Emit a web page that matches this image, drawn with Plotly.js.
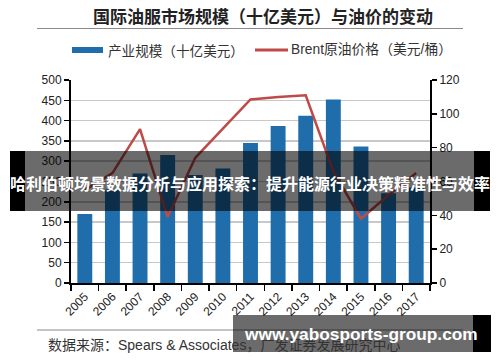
<!DOCTYPE html>
<html>
<head>
<meta charset="utf-8">
<script src="https://cdn.plot.ly/plotly-3.0.1.min.js"></script>
<style>html,body{margin:0;padding:0;background:#fff;}#chart{width:500px;height:362px;}</style>
</head>
<body>
<div id="chart"></div>
<script>
const years = ['2005','2006','2007','2008','2009','2010','2011','2012','2013','2014','2015','2016','2017'];
const marketSize = [170, 230, 270, 315, 266, 282, 345, 387, 412, 452, 336, 221, 235];
const brentPrice = [55, 65, 91, 39, 74, 91, 108.5, 110, 111, 66, 38, 52, 65];
const leftTicks = [0, 50, 100, 150, 200, 250, 300, 350, 400, 450, 500];
const rightTicks = [0, 20, 40, 60, 80, 100, 120];

const chartTitle = '国际油服市场规模（十亿美元）与油价的变动';
const barName = '产业规模（十亿美元）';
const lineName = 'Brent原油价格（美元/桶）';
const sourceText = '数据来源：Spears &amp; Associates，广发证券发展研究中心';
const bannerText = '哈利伯顿场景数据分析与应用探索：提升能源行业决策精准性与效率';
const watermarkText = 'www.yabosports-group.com';

const M = {l:71, r:70, t:80, b:79};
const W = 500, H = 362;
const PW = W - M.l - M.r, PH = H - M.t - M.b;
const px = x => (x - M.l) / PW;
const py = y => (H - M.b - y) / PH;

const barColor = '#1f6eab';
const lineColor = '#be4b48';
const cjk = '"Noto Sans CJK SC", "Liberation Sans", sans-serif';
const latin = '"Liberation Sans", Arial, "Noto Sans CJK SC", sans-serif';

const traces = [
  {type:'bar', x: years, y: marketSize, name: barName, marker:{color: barColor}, yaxis:'y', showlegend:false},
  {type:'scatter', mode:'lines', x: years, y: brentPrice, name: lineName, line:{color: lineColor, width:2.5}, yaxis:'y2', showlegend:false}
];

function rect(x0,y0,x1,y1,fill,layer){
  return {type:'rect', xref:'paper', yref:'paper', x0:px(x0), x1:px(x1), y0:py(y1), y1:py(y0), fillcolor:fill, line:{width:0}, layer: layer||'above'};
}
function hline(x0,x1,y,color,w){
  return {type:'line', xref:'paper', yref:'paper', x0:px(x0), x1:px(x1), y0:py(y), y1:py(y), line:{color:color, width:w}, layer:'above'};
}

const shapes = [
  hline(37, 463, 28.5, '#8a8a8a', 1.2),
  hline(37, 463, 330, '#8a8a8a', 1.2),
  rect(72, 47, 103, 53, barColor),
  hline(255, 288, 50, lineColor, 3),
  // overlay banner
  rect(25, 151, 474, 211, 'rgba(0,0,0,0.58)'),
  rect(10, 151, 25, 211, '#000'),
  rect(474, 151, 490, 211, '#000'),
  // watermark box
  rect(233, 315, 473, 352, 'rgba(0,0,0,0.58)'),
  rect(473, 315, 491, 352, '#000')
];

function ann(text, x, y, size, opts){
  return Object.assign({text:text, xref:'paper', yref:'paper', x:px(x), y:py(y), showarrow:false,
    xanchor:'left', yanchor:'middle', font:{family: cjk, size:size, color:'#222'}}, opts||{});
}

const annotations = [
  ann('<b>'+chartTitle+'</b>', 263, 15, 17, {xanchor:'center', font:{family:cjk, size:17, color:'#222'}}),
  ann(barName, 106, 50, 13.6, {font:{family:cjk, size:13.6, color:'#333'}}),
  ann(lineName, 289, 50, 13.8, {font:{family:latin, size:13.8, color:'#333'}}),
  ann(sourceText, 46, 345, 14, {font:{family:latin, size:14, color:'#333'}}),
  ann('<b>'+bannerText+'</b>', 250, 183, 16, {xanchor:'center', font:{family:cjk, size:16, color:'#fff'}}),
  ann('<b>'+watermarkText+'</b>', 361, 334, 17, {xanchor:'center', font:{family:latin, size:17.3, color:'#fff'}})
];

const layout = {
  width: W, height: H,
  margin: M,
  paper_bgcolor:'#fff', plot_bgcolor:'#fff',
  showlegend:false,
  bargap: 0.46,
  font:{family: latin, size:12, color:'#222'},
  xaxis:{type:'category', tickangle:-45, tickfont:{size:12, color:'#222'}, showline:true, linecolor:'#000', linewidth:2,
         ticks:'outside', ticklen:6, tickwidth:1.5, tickcolor:'#000', tickson:'boundaries', showgrid:false, zeroline:false},
  yaxis:{range:[0,500], tickvals:leftTicks, ticktext:leftTicks.map(String), showline:true, linecolor:'#000', linewidth:2,
         ticks:'outside', ticklen:5, tickwidth:1.5, tickcolor:'#000', showgrid:true, gridcolor:'#c8c8c8', gridwidth:1.5,
         zeroline:false, tickfont:{size:12, color:'#222'}},
  yaxis2:{range:[0,120], tickvals:rightTicks, ticktext:rightTicks.map(String), overlaying:'y', side:'right', showline:true,
          linecolor:'#000', linewidth:2, ticks:'outside', ticklen:5, tickwidth:1.5, tickcolor:'#000', showgrid:false,
          zeroline:false, tickfont:{size:12, color:'#222'}},
  shapes: shapes,
  annotations: annotations
};

Plotly.newPlot('chart', traces, layout, {displayModeBar:false, staticPlot:true});
</script>
</body>
</html>
